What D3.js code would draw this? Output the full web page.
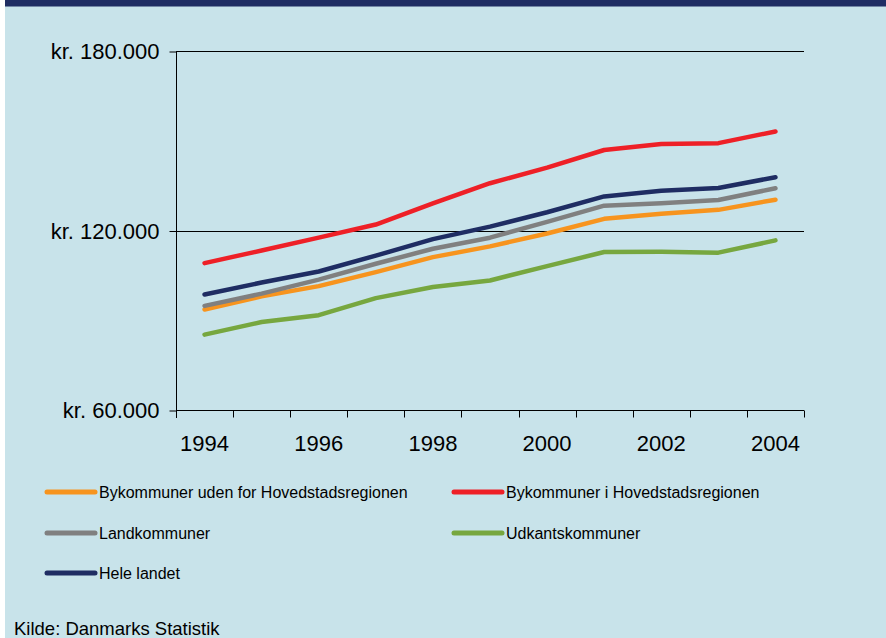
<!DOCTYPE html>
<html>
<head>
<meta charset="utf-8">
<script src="https://cdn.jsdelivr.net/npm/d3@7"></script>
<style>
 html, body { margin: 0; padding: 0; background: #ffffff; }
 svg { display: block; }
</style>
</head>
<body>
<svg id="chart" width="886" height="638"></svg>
<script>
// chart data
var years = [1994, 1995, 1996, 1997, 1998, 1999, 2000, 2001, 2002, 2003, 2004];
var yearLabels = ['1994', '1996', '1998', '2000', '2002', '2004'];
var yTicks = [60000, 120000, 180000];

var bykommunerUden = [93600, 98000, 101400, 106100, 111100, 114700, 119000, 123900, 125600, 126900, 130300];
var bykommunerHovedstad = [109100, 113300, 117600, 122000, 129100, 135800, 141000, 146900, 148900, 149200, 153100];
var landkommuner = [94800, 98900, 103600, 108900, 113900, 117600, 122900, 128300, 129100, 130200, 134100];
var udkantskommuner = [85200, 89400, 91700, 97400, 101100, 103300, 108100, 112800, 112900, 112600, 116700];
var heleLandet = [98600, 102600, 106300, 111600, 117100, 121300, 126100, 131400, 133300, 134200, 137800];

var seriesNames = ['Bykommuner uden for Hovedstadsregionen', 'Bykommuner i Hovedstadsregionen',
 'Landkommuner', 'Udkantskommuner', 'Hele landet'];
var seriesValues = [bykommunerUden, bykommunerHovedstad, landkommuner, udkantskommuner, heleLandet];
var seriesColors = ['#f7941e', '#ee2027', '#808080', '#77a73f', '#1f2d63'];
// drawing order: back to front
var drawOrder = [0, 2, 3, 4, 1];

var fontFamily = 'Arial, "Liberation Sans", sans-serif';

var svg = d3.select('#chart');

// background panel
svg.append('rect')
 .attr('x', 5).attr('y', 0)
 .attr('width', 881).attr('height', 638)
 .style('fill', '#c8e3ea');

// dark title band at the top (cut off)
svg.append('rect')
 .attr('x', 5).attr('y', 0)
 .attr('width', 881).attr('height', 6.5)
 .style('fill', '#1f2d63');

// scales
var x = d3.scaleBand()
 .domain(years)
 .range([176, 804]);

var y = d3.scaleLinear()
 .domain([60000, 180000])
 .range([410, 51]);

var fmt = function(v) { return 'kr. ' + d3.format(',')(v).replace(/,/g, '.'); };

// horizontal grid lines
svg.append('g').selectAll('line')
 .data(yTicks.slice(1))
 .enter().append('line')
 .attr('x1', 176).attr('x2', 804)
 .attr('y1', function(d) { return Math.round(y(d)) + 0.5; })
 .attr('y2', function(d) { return Math.round(y(d)) + 0.5; })
 .style('stroke', '#000')
 .style('stroke-width', '1px');

// y axis
var yAxis = svg.append('g')
 .attr('transform', 'translate(176.5,0.5)')
 .call(d3.axisLeft(y).tickValues(yTicks).tickSize(7).tickPadding(10).tickFormat(fmt));
yAxis.selectAll('text')
 .style('font-family', fontFamily)
 .style('font-size', '22px')
 .style('fill', '#000');

// x axis: ticks at band boundaries, labels every other year
var xAxisG = svg.append('g').attr('transform', 'translate(0,410.5)');
xAxisG.append('line')
 .attr('x1', 176).attr('x2', 804)
 .style('stroke', '#000');
var bounds = years.map(function(d) { return x(d); }).concat([x.range()[1]]);
xAxisG.selectAll('.xtick')
 .data(bounds)
 .enter().append('line')
 .attr('class', 'xtick')
 .attr('x1', function(d) { return Math.round(d) + 0.5; })
 .attr('x2', function(d) { return Math.round(d) + 0.5; })
 .attr('y1', 0).attr('y2', 7)
 .style('stroke', '#000');
xAxisG.selectAll('.xlabel')
 .data(yearLabels)
 .enter().append('text')
 .attr('class', 'xlabel')
 .attr('x', function(d) { return x(+d) + x.bandwidth() / 2; })
 .attr('y', 40.5)
 .attr('text-anchor', 'middle')
 .style('font-family', fontFamily)
 .style('font-size', '22px')
 .style('fill', '#000')
 .text(function(d) { return d; });

// remove the default axis domain path, keep ticks
yAxis.select('.domain').remove();
svg.append('line')
 .attr('x1', 176.5).attr('x2', 176.5)
 .attr('y1', 51).attr('y2', 418)
 .style('stroke', '#000');

// series lines
var line = d3.line()
 .x(function(d, i) { return x(years[i]) + x.bandwidth() / 2; })
 .y(function(d) { return y(d); });

svg.append('g').selectAll('path')
 .data(drawOrder)
 .enter().append('path')
 .attr('d', function(k) { return line(seriesValues[k]); })
 .style('fill', 'none')
 .style('stroke', function(k) { return seriesColors[k]; })
 .style('stroke-width', '4.5px')
 .style('stroke-linejoin', 'round')
 .style('stroke-linecap', 'round');

// legend
var legendPos = [[45, 492], [452, 492], [45, 533], [452, 533], [45, 573]];
var legend = svg.append('g').selectAll('g')
 .data(seriesNames)
 .enter().append('g')
 .attr('transform', function(d, i) { return 'translate(' + legendPos[i][0] + ',' + legendPos[i][1] + ')'; });
legend.append('line')
 .attr('x1', 2).attr('x2', 50)
 .style('stroke', function(d, i) { return seriesColors[i]; })
 .style('stroke-width', '5px')
 .style('stroke-linecap', 'round');
legend.append('text')
 .attr('x', 54)
 .attr('y', 6)
 .style('font-family', fontFamily)
 .style('font-size', '16px')
 .style('fill', '#000')
 .text(function(d) { return d; });

// source
svg.append('text')
 .attr('x', 14)
 .attr('y', 635)
 .style('font-family', fontFamily)
 .style('font-size', '18.5px')
 .style('fill', '#000')
 .text('Kilde: Danmarks Statistik');
</script>
</body>
</html>
